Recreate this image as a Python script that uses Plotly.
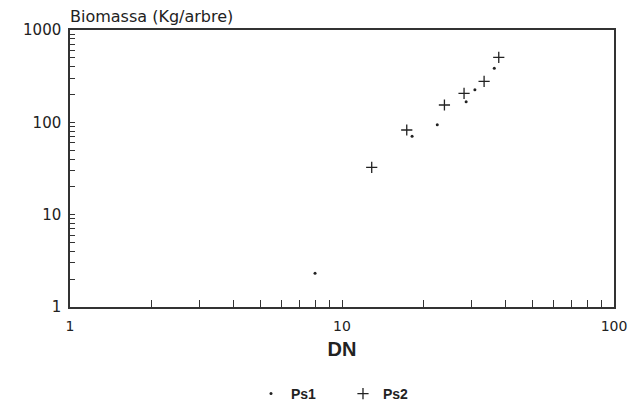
import plotly.graph_objects as go

# Data (log-log scatter)
ps1_dn = [7.96, 18.1, 22.4, 28.6, 30.8, 36.3]
ps1_biomassa = [2.32, 70.6, 94.3, 167, 226, 385]
ps2_dn = [12.86, 17.3, 23.8, 28.1, 33.3, 37.7]
ps2_biomassa = [32.6, 82.6, 154, 206, 278, 506]

x_major = [1, 10, 100]
y_major = [1, 10, 100, 1000]

def log_ticks(majors):
    vals, texts = [], []
    for i, m in enumerate(majors):
        vals.append(m)
        texts.append(str(m))
        if i < len(majors) - 1:
            for k in range(2, 10):
                vals.append(m * k)
                texts.append("")
    return vals, texts

xv, xt = log_ticks(x_major)
yv, yt = log_ticks(y_major)

fig = go.Figure()
fig.add_trace(go.Scatter(x=ps1_dn, y=ps1_biomassa, mode="markers", name="Ps1",
                         marker=dict(symbol="circle", size=3, color="#222")))
fig.add_trace(go.Scatter(x=ps2_dn, y=ps2_biomassa, mode="markers", name="Ps2",
                         marker=dict(symbol="cross-thin", size=8, color="#222",
                                     line=dict(width=1.3, color="#222"))))

font_main = "DejaVu Sans"
fig.update_layout(
    width=642, height=401,
    margin=dict(l=70, r=28, t=30, b=94, autoexpand=False),
    paper_bgcolor="white", plot_bgcolor="white",
    font=dict(family=font_main, size=15, color="#222"),
    showlegend=True,
    legend=dict(orientation="h", x=0.3327, xanchor="left", y=-0.314, yanchor="middle",
                font=dict(family="Liberation Sans", size=14, color="#222", weight="bold"),
                entrywidth=47, entrywidthmode="pixels", tracegroupgap=0),
    annotations=[
        dict(text="Biomassa (Kg/arbre)", xref="paper", yref="paper", x=-0.003, y=1.0,
             xanchor="left", yanchor="bottom", yshift=2, showarrow=False,
             font=dict(family=font_main, size=16, color="#222")),
    ],
)
fig.update_xaxes(type="log", range=[0, 2], tickvals=xv, ticktext=xt,
                 ticks="inside", ticklen=7, tickwidth=1.2, tickcolor="#333",
                 showline=True, linewidth=1.5, linecolor="#333", mirror=True,
                 showgrid=False, zeroline=False, ticklabelstandoff=5, automargin=False,
                 tickfont=dict(size=14),
                 title=dict(text="<b>DN</b>", font=dict(family="Liberation Sans", size=20, color="#222"),
                            standoff=9))
fig.update_yaxes(type="log", range=[0, 3], tickvals=yv, ticktext=yt,
                 ticks="inside", ticklen=5, tickwidth=1.2, tickcolor="#333",
                 showline=True, linewidth=1.5, linecolor="#333", mirror=True,
                 showgrid=False, zeroline=False, ticklabelstandoff=4, automargin=False)

fig.write_html("out.html")
